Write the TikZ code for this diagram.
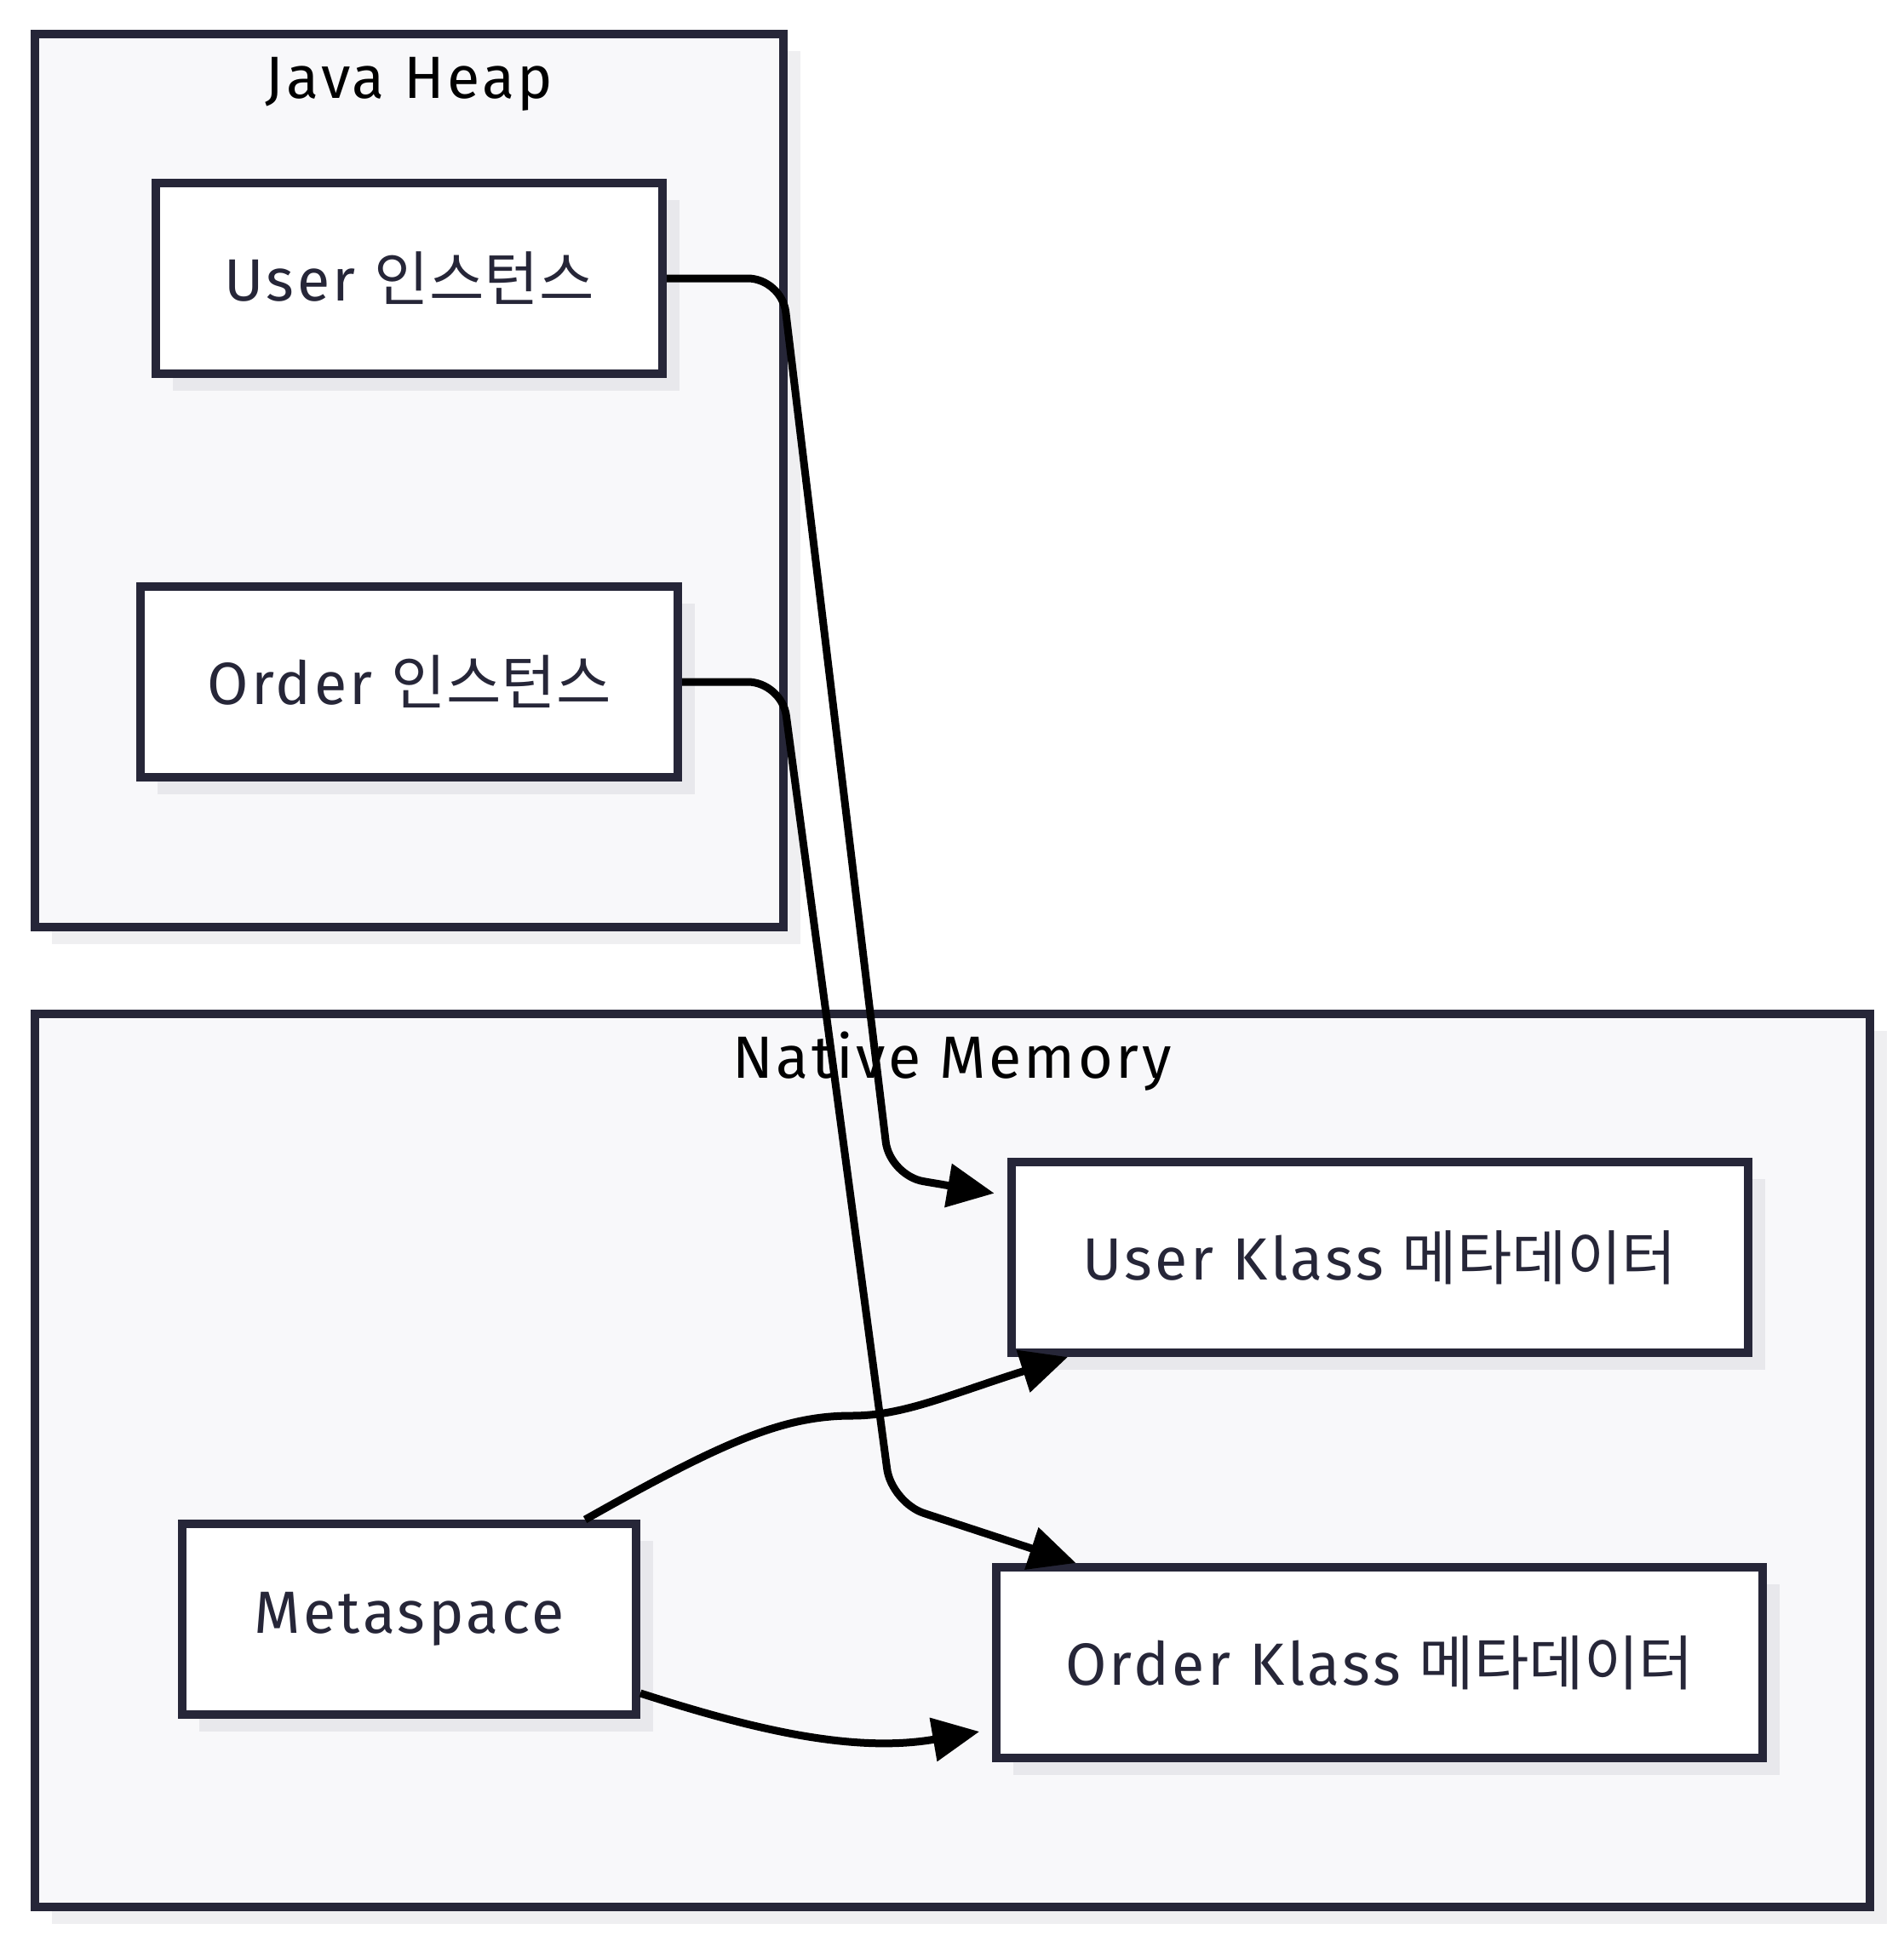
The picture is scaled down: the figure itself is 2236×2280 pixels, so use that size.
\documentclass[tikz,border=0pt]{standalone}
\usepackage{fontspec}
\setmainfont{Fira Sans}[LetterSpace=5.0]
\newfontfamily\kr{Noto Sans CJK KR}
\usetikzlibrary{arrows.meta,shadows}
\definecolor{boxline}{HTML}{262638}
\definecolor{groupfill}{HTML}{F8F8FA}
\definecolor{groupshade}{HTML}{EFEFF1}
\definecolor{boxshade}{HTML}{E8E8EC}
\begin{document}
\begin{tikzpicture}[x=0.4pt, y=-0.4pt,
  group/.style={draw=boxline, line width=4pt, fill=groupfill, inner sep=0pt,
    minimum height=419.7pt,
    general shadow={fill=groupshade, shadow xshift=8pt, shadow yshift=-8pt}},
  box/.style={draw=boxline, line width=4pt, fill=white, inner sep=0pt,
    text=boxline, font=\fontsize{28}{33}\selectfont, minimum height=89.6pt,
    general shadow={fill=boxshade, shadow xshift=8pt, shadow yshift=-8pt}},
  title/.style={anchor=base, font=\fontsize{28}{33}\selectfont},
  link/.style={line width=3.6pt, -{Triangle[length=22pt,width=20pt]}}]
\useasboundingbox (0,0) rectangle (2236,2280);

% clusters
\node[group, minimum width=351.8pt] (heap) at (480.5,564.7) {};
\node[title] (heaptitle) at (480.5,115) {Java Heap};
\node[group, minimum width=862pt] (native) at (1118.2,1715.5) {};
\node[title] (nativetitle) at (1118.2,1266) {Native Memory};

% nodes
\node[box, minimum width=238pt] (uinst) at (480.5,327) {User {\kr 인스턴스}};
\node[box, minimum width=252.4pt] (oinst) at (480.5,801) {Order {\kr 인스턴스}};
\node[box, minimum width=213.2pt] (meta) at (480.5,1902) {Metaspace};
\node[box, minimum width=346pt] (ukl) at (1620,1477) {User Klass {\kr 메타데이터}};
\node[box, minimum width=360pt] (okl) at (1620,1953) {Order Klass {\kr 메타데이터}};

% edges
\draw[link, rounded corners=16pt, shorten >=6pt] (uinst.east) -- (918,327) -- (1045,1381) -- (ukl);
\draw[link, rounded corners=16pt] (oinst.east) -- (918,801) -- (1047,1765) -- (okl);
\draw[link] (meta) .. controls (850,1693) and (920,1663) .. (1000,1663)
  .. controls (1060,1663) and (1110,1640) .. (ukl);
\draw[link, shorten >=6pt] (meta) .. controls (880,2030) and (1000,2060) .. (okl);
\end{tikzpicture}
\end{document}
